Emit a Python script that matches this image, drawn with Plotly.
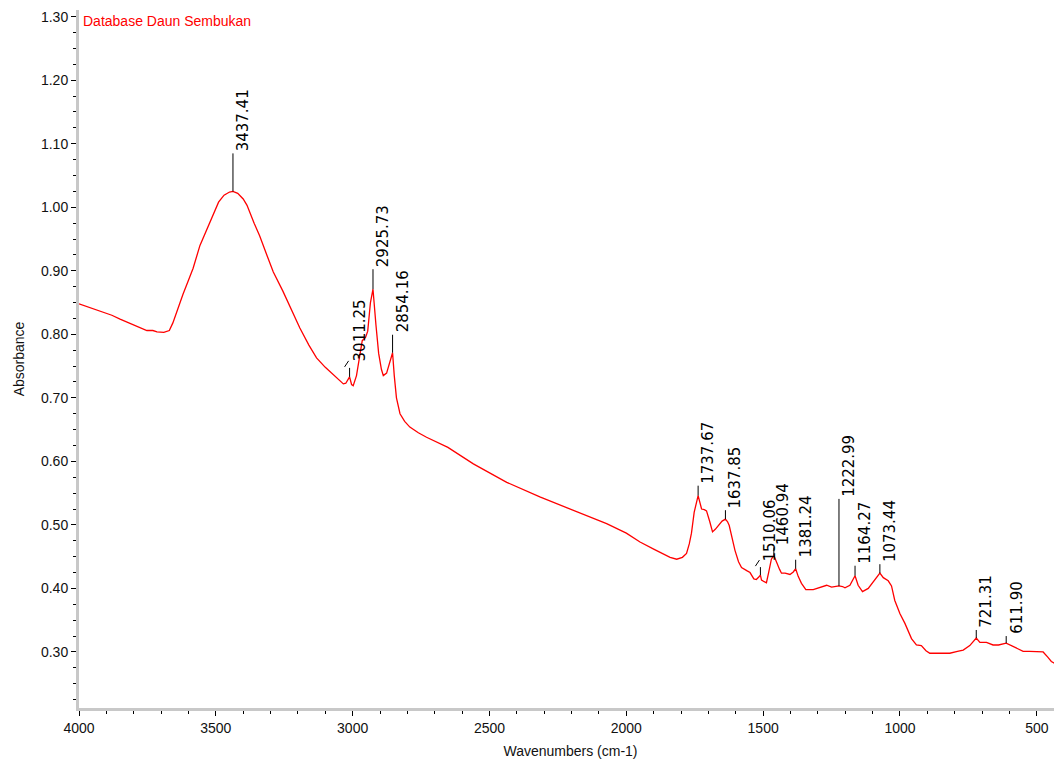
import plotly.graph_objects as go

# ---------------- data ----------------
wavenumber = [
    4000, 3960, 3923, 3880, 3850, 3800, 3752, 3730, 3715, 3690, 3670, 3657, 3640, 3620,
    3600, 3583, 3558, 3532, 3510, 3490, 3470, 3450, 3437.41, 3420, 3400, 3386, 3360,
    3340, 3313, 3290, 3255, 3230, 3193, 3160, 3132, 3100, 3083, 3060, 3034, 3025, 3018,
    3011.25, 3004, 2998, 2986, 2975, 2965, 2953, 2945, 2935, 2925.73, 2915, 2905, 2895,
    2888, 2876, 2865, 2854.16, 2848, 2840, 2827, 2810, 2791, 2760, 2730, 2680, 2652,
    2559, 2437, 2316, 2194, 2072, 2000, 1950, 1900, 1877, 1840, 1816, 1795, 1780, 1770,
    1762, 1752, 1737.67, 1730, 1725, 1715, 1707, 1695, 1685, 1675, 1664, 1650, 1637.85,
    1630, 1624, 1613, 1603, 1590, 1579, 1560, 1548, 1534, 1525, 1516, 1510.06, 1506,
    1495, 1488, 1480, 1470, 1460.94, 1451, 1440, 1433, 1420, 1402, 1390, 1381.24, 1372,
    1360, 1344, 1317, 1290, 1268, 1250, 1232, 1222.99, 1210, 1201, 1183, 1172, 1164.27,
    1153, 1137, 1116, 1095, 1080, 1073.44, 1061, 1043, 1031, 1019, 1000, 982, 958, 940,
    922, 905, 891, 860, 818, 790, 769, 745, 721.31, 708, 684, 660, 640, 611.90, 587,
    560, 550, 526, 500, 477, 460, 447, 430, 422, 415, 408,
]
absorbance = [
    0.848, 0.842, 0.837, 0.830, 0.824, 0.815, 0.806, 0.806, 0.804, 0.803, 0.806, 0.818, 0.840, 0.863,
    0.885, 0.904, 0.940, 0.967, 0.990, 1.008, 1.019, 1.024, 1.025, 1.022, 1.013, 1.003, 0.975,
    0.955, 0.924, 0.898, 0.868, 0.845, 0.810, 0.783, 0.763, 0.748, 0.741, 0.733, 0.722, 0.723, 0.728,
    0.733, 0.721, 0.719, 0.735, 0.765, 0.790, 0.795, 0.805, 0.850, 0.871, 0.815, 0.770, 0.745,
    0.735, 0.739, 0.755, 0.771, 0.735, 0.700, 0.675, 0.663, 0.654, 0.645, 0.638, 0.627, 0.622,
    0.596, 0.567, 0.544, 0.523, 0.502, 0.487, 0.473, 0.462, 0.457, 0.449, 0.446, 0.449, 0.455, 0.470,
    0.487, 0.520, 0.546, 0.535, 0.525, 0.524, 0.522, 0.505, 0.489, 0.493, 0.499, 0.506, 0.509,
    0.505, 0.499, 0.478, 0.460, 0.442, 0.433, 0.428, 0.425, 0.415, 0.414, 0.418, 0.421, 0.413,
    0.410, 0.409, 0.425, 0.446, 0.452, 0.440, 0.430, 0.424, 0.424, 0.422, 0.426, 0.431, 0.419,
    0.408, 0.398, 0.398, 0.402, 0.405, 0.402, 0.404, 0.404, 0.403, 0.401, 0.405, 0.415, 0.420,
    0.405, 0.395, 0.400, 0.412, 0.422, 0.424, 0.417, 0.412, 0.404, 0.381, 0.360, 0.345, 0.321, 0.311,
    0.310, 0.302, 0.298, 0.298, 0.298, 0.301, 0.303, 0.310, 0.322, 0.315, 0.315, 0.311, 0.311, 0.314, 0.309,
    0.303, 0.301, 0.301, 0.301, 0.300, 0.292, 0.285, 0.281, 0.280, 0.272, 0.266,
]

peak_wn = [3437.41, 3011.25, 2925.73, 2854.16, 1737.67, 1637.85, 1510.06, 1460.94,
           1381.24, 1222.99, 1164.27, 1073.44, 721.31, 611.90]
peak_labels = ["3437.41", "3011.25", "2925.73", "2854.16", "1737.67", "1637.85", "1510.06",
               "1460.94", "1381.24", "1222.99", "1164.27", "1073.44", "721.31", "611.90"]

title_text = "Database Daun Sembukan"
x_title = "Wavenumbers (cm-1)"
y_title = "Absorbance"

# ---------------- styling / layout ----------------
# the page body has an 8px default margin, so the figure is shrunk/shifted to compensate
BODY = 8
W, H = 1062 - BODY, 765 - BODY
ML, MR, MT, MB = 79 - BODY, 0, 10 - BODY, 57
X_RANGE = [4000, 408]
Y_RANGE = [0.2118, 1.3105]
px_per_x = (W - ML - MR) / (X_RANGE[0] - X_RANGE[1])
px_per_y = (H - MT - MB) / (Y_RANGE[1] - Y_RANGE[0])

# leader line length (px) for each label, and whether it has a small slash
leader_px = [38, 9, 20, 18, 10, 9, 8, 8, 9, 87, 10, 9, 8, 7]
slash = [False, True, False, False, False, False, True, False, False, False, False, False, False, False]

fig = go.Figure()
fig.add_trace(go.Scatter(
    x=wavenumber, y=absorbance, mode="lines",
    line=dict(color="#ff0000", width=1.3), showlegend=False, hoverinfo="x+y",
))

shapes = []
annotations = []
for wn, lab, lp, sl in zip(peak_wn, peak_labels, leader_px, slash):
    yv = absorbance[wavenumber.index(wn)]
    ytop = yv + lp / px_per_y
    shapes.append(dict(type="line", xref="x", yref="y", x0=wn, x1=wn, y0=yv, y1=ytop,
                       line=dict(color="#000000", width=1)))
    text_y = ytop
    if sl:
        dx = 1.0 / px_per_x
        dy = 1.0 / px_per_y
        shapes.append(dict(type="line", xref="x", yref="y",
                           x0=wn + 5 * dx, x1=wn + 1 * dx,
                           y0=ytop + 1 * dy, y1=ytop + 7 * dy,
                           line=dict(color="#000000", width=1)))
        text_y = ytop + 4 * dy
    annotations.append(dict(
        x=wn, y=text_y, xref="x", yref="y", text=lab, showarrow=False,
        textangle=-90, xanchor="center", yanchor="bottom", xshift=10, yshift=0,
        font=dict(family="DejaVu Sans", size=15, color="#000000"),
    ))

annotations.append(dict(
    x=0, y=1, xref="paper", yref="paper", text=title_text, showarrow=False,
    xanchor="left", yanchor="top", xshift=2, yshift=-1,
    font=dict(family="Liberation Sans, Arial", size=14, color="#ff0000"),
))

axis_font = dict(family="Liberation Sans, Arial", size=14, color="#111111")

fig.update_layout(
    width=W, height=H,
    margin=dict(l=ML, r=MR, t=MT, b=MB, pad=0, autoexpand=False),
    paper_bgcolor="white", plot_bgcolor="white",
    shapes=shapes, annotations=annotations,
    xaxis=dict(
        range=X_RANGE, showgrid=False, zeroline=False,
        showline=True, linecolor="#c8c8c8", linewidth=3,
        ticks="outside", ticklen=5, tickcolor="#000000", tickwidth=1,
        tick0=0, dtick=500, tickfont=axis_font,
        minor=dict(ticks="outside", ticklen=3, tickcolor="#000000", dtick=100, tick0=0, showgrid=False),
        title=dict(text=x_title, font=axis_font, standoff=12),
    ),
    yaxis=dict(
        range=Y_RANGE, showgrid=False, zeroline=False,
        showline=True, linecolor="#c8c8c8", linewidth=3,
        ticks="outside", ticklen=5, tickcolor="#000000", tickwidth=1,
        tick0=0, dtick=0.1, tickformat=".2f", tickfont=axis_font,
        minor=dict(ticks="outside", ticklen=3, tickcolor="#000000", dtick=0.025, tick0=0, showgrid=False),
        title=dict(text=y_title, font=axis_font, standoff=14),
    ),
)

fig.write_html("out.html")
